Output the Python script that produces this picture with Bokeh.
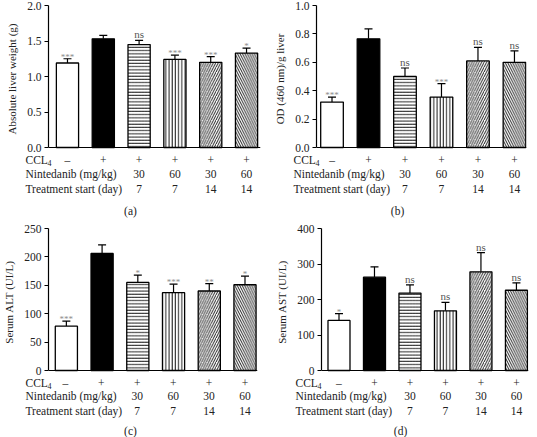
from bokeh.plotting import figure
from bokeh.models import (ColumnDataSource, Range1d, FixedTicker, PrintfTickFormatter,
                          Whisker, TeeHead, LabelSet, Span)
from bokeh.layouts import column, row
from bokeh.core.properties import value
from bokeh.embed import file_html
from bokeh.resources import INLINE

# ---------------- data ----------------
groups = [1, 2, 3, 4, 5, 6]
ccl4 = ["\u2013", "+", "+", "+", "+", "+"]
nintedanib = ["", "", "30", "60", "30", "60"]
start_day = ["", "", "7", "7", "14", "14"]
row_headers = ["CCL", "Nintedanib (mg/kg)", "Treatment start (day)"]

liver_weight = [1.19, 1.53, 1.45, 1.24, 1.20, 1.33]
liver_weight_err = [0.06, 0.05, 0.06, 0.06, 0.08, 0.07]
liver_weight_sig = ["***", "", "ns", "***", "***", "*"]

od_liver = [0.32, 0.765, 0.50, 0.355, 0.61, 0.60]
od_liver_err = [0.035, 0.07, 0.06, 0.095, 0.095, 0.08]
od_liver_sig = ["***", "", "ns", "***", "ns", "ns"]

alt = [78, 206, 155, 137, 140, 151]
alt_err = [9, 15, 13, 15, 13, 15]
alt_sig = ["***", "", "*", "***", "**", "*"]

ast = [141, 263, 218, 168, 278, 226]
ast_err = [19, 29, 23, 24, 54, 21]
ast_sig = ["*", "", "ns", "ns", "ns", "ns"]

FONT = "Liberation Serif"
TXT = "#222222"
fills = ["white", "black", "white", "white", "white", "white"]
hatches = [" ", " ", "-", "|", "/", "\\"]
hscales = [3, 3, 3.2, 3.2, 4.8, 4.8]


def make_panel(vals, errs, sig, ylabel, yticks, fmt, tag,
               fig_w, fig_h, fl, fr, ytop, yzero, x0, x1, rows_px, tag_px, text_left):
    ymax = yticks[-1]
    ppu = (yzero - ytop) / ymax
    ppx = (fr - fl) / (x1 - x0)
    below = 5
    plot_h = yzero + below

    def dx(px):
        return x0 + (px - fl) / ppx

    p = figure(width=fig_w, height=plot_h, x_range=Range1d(x0, x1),
               y_range=Range1d(-below / ppu, ymax),
               x_axis_location=None, output_backend="svg", toolbar_location=None,
               min_border_left=fl, min_border_right=fig_w - fr, min_border_top=ytop,
               min_border_bottom=0)
    p.grid.visible = False
    p.outline_line_color = None

    upper = [v + e for v, e in zip(vals, errs)]
    stars = [s if s.startswith("*") else "" for s in sig]
    ns = [s if s == "ns" else "" for s in sig]
    src = ColumnDataSource(dict(x=groups, top=vals, upper=upper, lower=vals,
                                stars=stars, ns=ns, fill=fills, hatch=hatches, hs=hscales))

    p.vbar(x="x", top="top", bottom=0, width=0.62, source=src, fill_color="fill",
           line_color="black", line_width=1.3, hatch_pattern="hatch", hatch_color="black",
           hatch_scale="hs", hatch_weight=0.9)
    p.add_layout(Whisker(base="x", upper="upper", lower="lower", source=src,
                         line_color="black", line_width=1.2,
                         upper_head=TeeHead(size=8, line_width=1.2, line_color="black"),
                         lower_head=None))
    p.add_layout(Span(location=0, dimension="width", line_color="black", line_width=1.2))

    p.add_layout(LabelSet(x="x", y="upper", text="stars", source=src, text_align="center",
                          text_baseline="alphabetic", y_offset=-1,
                          text_font=value(FONT), text_font_size="9px", text_color="#8c8c8c"))
    p.add_layout(LabelSet(x="x", y="upper", text="ns", source=src, text_align="center",
                          text_baseline="alphabetic", y_offset=2,
                          text_font=value(FONT), text_font_size="11px", text_color="#555555"))

    ax = p.yaxis[0]
    ax.ticker = FixedTicker(ticks=yticks)
    ax.formatter = PrintfTickFormatter(format=fmt)
    ax.bounds = (0, ymax)
    ax.axis_label = ylabel
    ax.axis_label_text_font = FONT
    ax.axis_label_text_font_style = "normal"
    ax.axis_label_text_font_size = "11px"
    ax.axis_label_text_color = TXT
    ax.axis_label_standoff = 6
    ax.major_label_text_font = FONT
    ax.major_label_text_font_size = "11.5px"
    ax.major_label_text_color = TXT
    ax.major_label_standoff = 3
    ax.major_tick_out = 4
    ax.major_tick_in = 0
    ax.minor_tick_out = 0
    ax.minor_tick_in = 0
    ax.axis_line_width = 1.2
    ax.major_tick_line_width = 1.2

    # ---- table below the axis (separate figure, same x mapping) ----
    tab_h = fig_h - plot_h
    t = figure(width=fig_w, height=tab_h, x_range=Range1d(dx(0), dx(fig_w)),
               y_range=Range1d(tab_h, 0), x_axis_location=None, y_axis_location=None,
               output_backend="svg", toolbar_location=None,
               min_border_left=0, min_border_right=0, min_border_top=0, min_border_bottom=0)
    t.grid.visible = False
    t.outline_line_color = None
    ry = [py - plot_h for py in rows_px]
    tsrc = ColumnDataSource(dict(x=groups, ccl4=ccl4, nint=nintedanib, day=start_day))
    for col, y in zip(["ccl4", "nint", "day"], ry):
        t.text(x="x", y=y, text=col, source=tsrc, text_align="center",
               text_baseline="middle", text_font=value(FONT), text_font_size="11.5px",
               text_color=TXT)
    t.text(x=[dx(text_left)] * 3, y=ry, text=row_headers, text_align="left",
           text_baseline="middle", text_font=value(FONT), text_font_size="11.5px",
           text_color=TXT)
    t.text(x=[dx(text_left + 22)], y=[ry[0] + 3], text=["4"], text_align="left",
           text_baseline="middle", text_font=value(FONT), text_font_size="8px",
           text_color=TXT)
    t.text(x=[dx(tag_px[0])], y=[tag_px[1] - plot_h], text=[tag], text_align="center",
           text_baseline="middle", text_font=value(FONT), text_font_size="11.5px",
           text_color=TXT)
    return column(row(p), row(t), spacing=0)


pa = make_panel(liver_weight, liver_weight_err, liver_weight_sig, "Absolute liver weight (g)",
                [0, 0.5, 1.0, 1.5, 2.0], "%.1f", "(a)",
                268, 218, 48, 260, 5, 147, 0.47, 6.39, [159, 173, 188], (130, 210), 25)
pb = make_panel(od_liver, od_liver_err, od_liver_sig, "OD (460 nm)/g liver",
                [0, 0.2, 0.4, 0.6, 0.8, 1.0], "%.1f", "(b)",
                269, 218, 48, 258, 5, 147, 0.575, 6.33, [159, 173, 188], (129, 210), 25)
pc = make_panel(alt, alt_err, alt_sig, "Serum ALT (UI/L)",
                [0, 50, 100, 150, 200, 250], "%d", "(c)",
                268, 219, 47, 257, 10, 152, 0.5, 6.35, [164, 177, 192], (130, 212), 25)
pd = make_panel(ast, ast_err, ast_sig, "Serum AST (UI/L)",
                [0, 100, 200, 300, 400], "%d", "(d)",
                269, 219, 53, 260, 10, 152, 0.507, 6.34, [164, 177, 192], (132, 212), 27)

layout = column(row(pa, pb, spacing=0), row(pc, pd, spacing=0), spacing=0)
open("out.html", "w").write(file_html(layout, INLINE))
